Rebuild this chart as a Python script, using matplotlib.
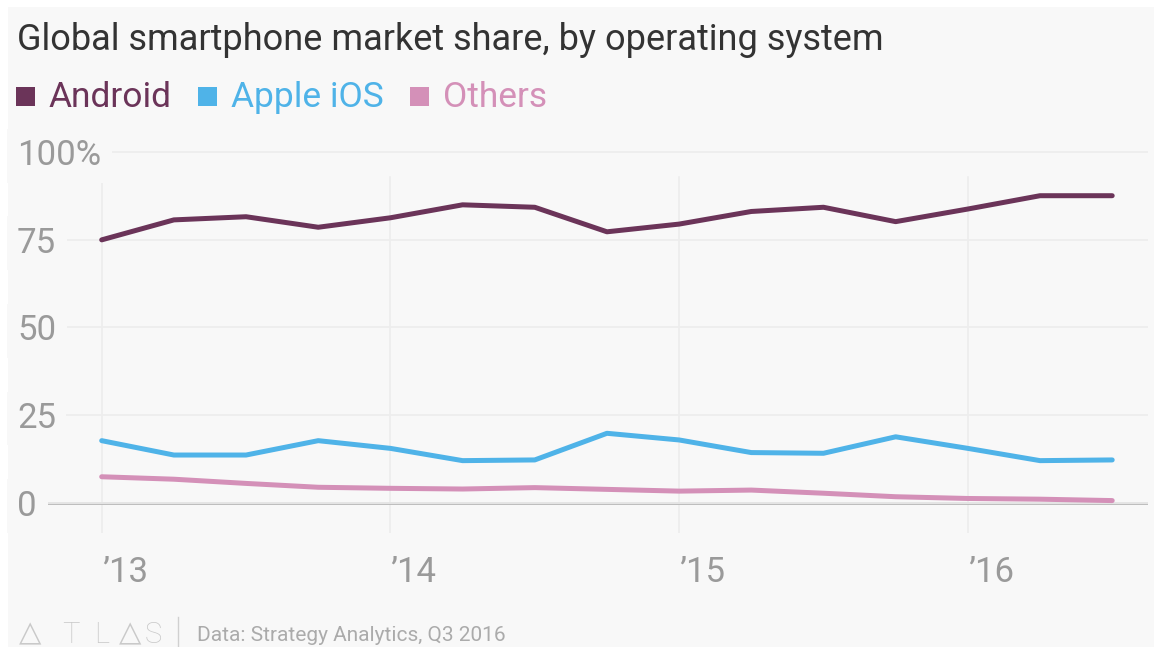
import numpy as np
import matplotlib
matplotlib.use("Agg")
import matplotlib.pyplot as plt
from matplotlib.patches import Rectangle

# ---- data ----
quarters = ["Q1 2013", "Q2 2013", "Q3 2013", "Q4 2013",
            "Q1 2014", "Q2 2014", "Q3 2014", "Q4 2014",
            "Q1 2015", "Q2 2015", "Q3 2015", "Q4 2015",
            "Q1 2016", "Q2 2016", "Q3 2016"]
android = [75.0, 80.7, 81.6, 78.6, 81.3, 85.0, 84.3, 77.3, 79.5, 83.1, 84.3, 80.2, 83.8, 87.6, 87.6]
apple_ios = [17.7, 13.6, 13.6, 17.7, 15.5, 12.0, 12.2, 19.8, 17.9, 14.3, 14.1, 18.8, 15.5, 12.0, 12.2]
others = [7.4, 6.7, 5.5, 4.4, 4.1, 3.9, 4.3, 3.8, 3.3, 3.6, 2.7, 1.7, 1.2, 1.0, 0.6]
series_names = ["Android", "Apple iOS", "Others"]
series_colors = ["#6b3459", "#4fb3e8", "#d490b8"]
y_ticks = [0, 25, 50, 75, 100]
y_tick_labels = ["0", "25", "50", "75", "100%"]
x_ticks = [2013, 2014, 2015, 2016]
x_tick_labels = ["\u201913", "\u201914", "\u201915", "\u201916"]
title = "Global smartphone market share, by operating system"
source = "Data: Strategy Analytics, Q3 2016"

# x positions from quarter labels
xvals = [int(q.split()[1]) + (int(q[1]) - 1) / 4 for q in quarters]

W, H = 1154, 647
BG = "#f8f8f8"
FONT = ["Roboto", "DejaVu Sans"]
plt.rcParams["font.family"] = FONT

fig = plt.figure(figsize=(W / 100, H / 100), dpi=100)
fig.patch.set_facecolor("white")
fig.add_artist(Rectangle((8 / W, 0), 1, (H - 7) / H, transform=fig.transFigure,
                         facecolor=BG, edgecolor="none", zorder=-10))

ax = fig.add_axes([48 / W, (H - 533) / H, 1100 / W, (533 - 150.5) / H])
ax.set_facecolor("none")
for s in ax.spines.values():
    s.set_visible(False)
ax.set_ylim(-8.65, 100.5)
ax.set_xlim(2012.814, 2016.624)

# y grid + labels
ax.set_yticks(y_ticks)
ax.set_yticklabels(y_tick_labels, ha="left",
                   bbox=dict(boxstyle="square,pad=0.3", facecolor=BG, edgecolor="none"))
ax.tick_params(axis="y", length=0, pad=31 * 0.72, labelsize=25, labelcolor="#9a9a9a")
ax.yaxis.grid(True, color="#ededed", lw=1.2, zorder=0)
ax.axhline(0, color="#b8b8b8", lw=2, zorder=1.5)

# x ticks
ax.set_xticks(x_ticks)
ax.set_xticklabels(x_tick_labels, ha="left")
ax.tick_params(axis="x", length=0, pad=16.5, labelsize=25, labelcolor="#9a9a9a")
top_frac = (93 + 8.65) / (100.5 + 8.65)
for xt in x_ticks:
    ax.axvline(xt, ymin=0, ymax=top_frac, color="#ededed", lw=1.2, zorder=0)

for vals, col in zip([android, apple_ios, others], series_colors):
    ax.plot(xvals, vals, color=col, lw=3.6, solid_capstyle="round",
            solid_joinstyle="round", zorder=3, clip_on=False)

# title
fig.text(17 / W, 1 - 50 / H, title, fontsize=26, color="#333333", ha="left", va="baseline")

# legend
fig.canvas.draw()
renderer = fig.canvas.get_renderer()
xpos = 16
for name, col in zip(series_names, series_colors):
    fig.add_artist(Rectangle((xpos / W, 1 - 106 / H), 19 / W, 19 / H,
                             transform=fig.transFigure, facecolor=col, edgecolor="none"))
    t = fig.text((xpos + 33) / W, 1 - 107 / H, name, fontsize=25.5, color=col,
                 ha="left", va="baseline")
    bb = t.get_window_extent(renderer)
    xpos = bb.x1 + 26

# footer
foot_col = "#c9c9c9"
for ch, cx in zip(["\u25b3", "T", "L", "\u25b3", "S"], [30, 71, 102, 130, 153]):
    if ch == "\u25b3":
        fig.text(cx / W, 1 - 633 / H, ch, fontsize=21, color=foot_col, ha="center",
                 va="center", family=["DejaVu Sans"])
    else:
        fig.text(cx / W, 1 - 643 / H, ch, fontsize=21, color=foot_col, ha="center",
                 va="baseline", fontweight="light", family=["Roboto", "DejaVu Sans"])
fig.add_artist(plt.Line2D([178 / W, 178 / W], [0, (H - 617) / H], transform=fig.transFigure,
                          color="#d0d0d0", lw=1))
fig.text(197 / W, 1 - 641 / H, source, fontsize=15, color="#ababab", ha="left",
         va="baseline", family=["Roboto", "DejaVu Sans"])

fig.savefig("out.png", dpi=100, facecolor=fig.get_facecolor())
